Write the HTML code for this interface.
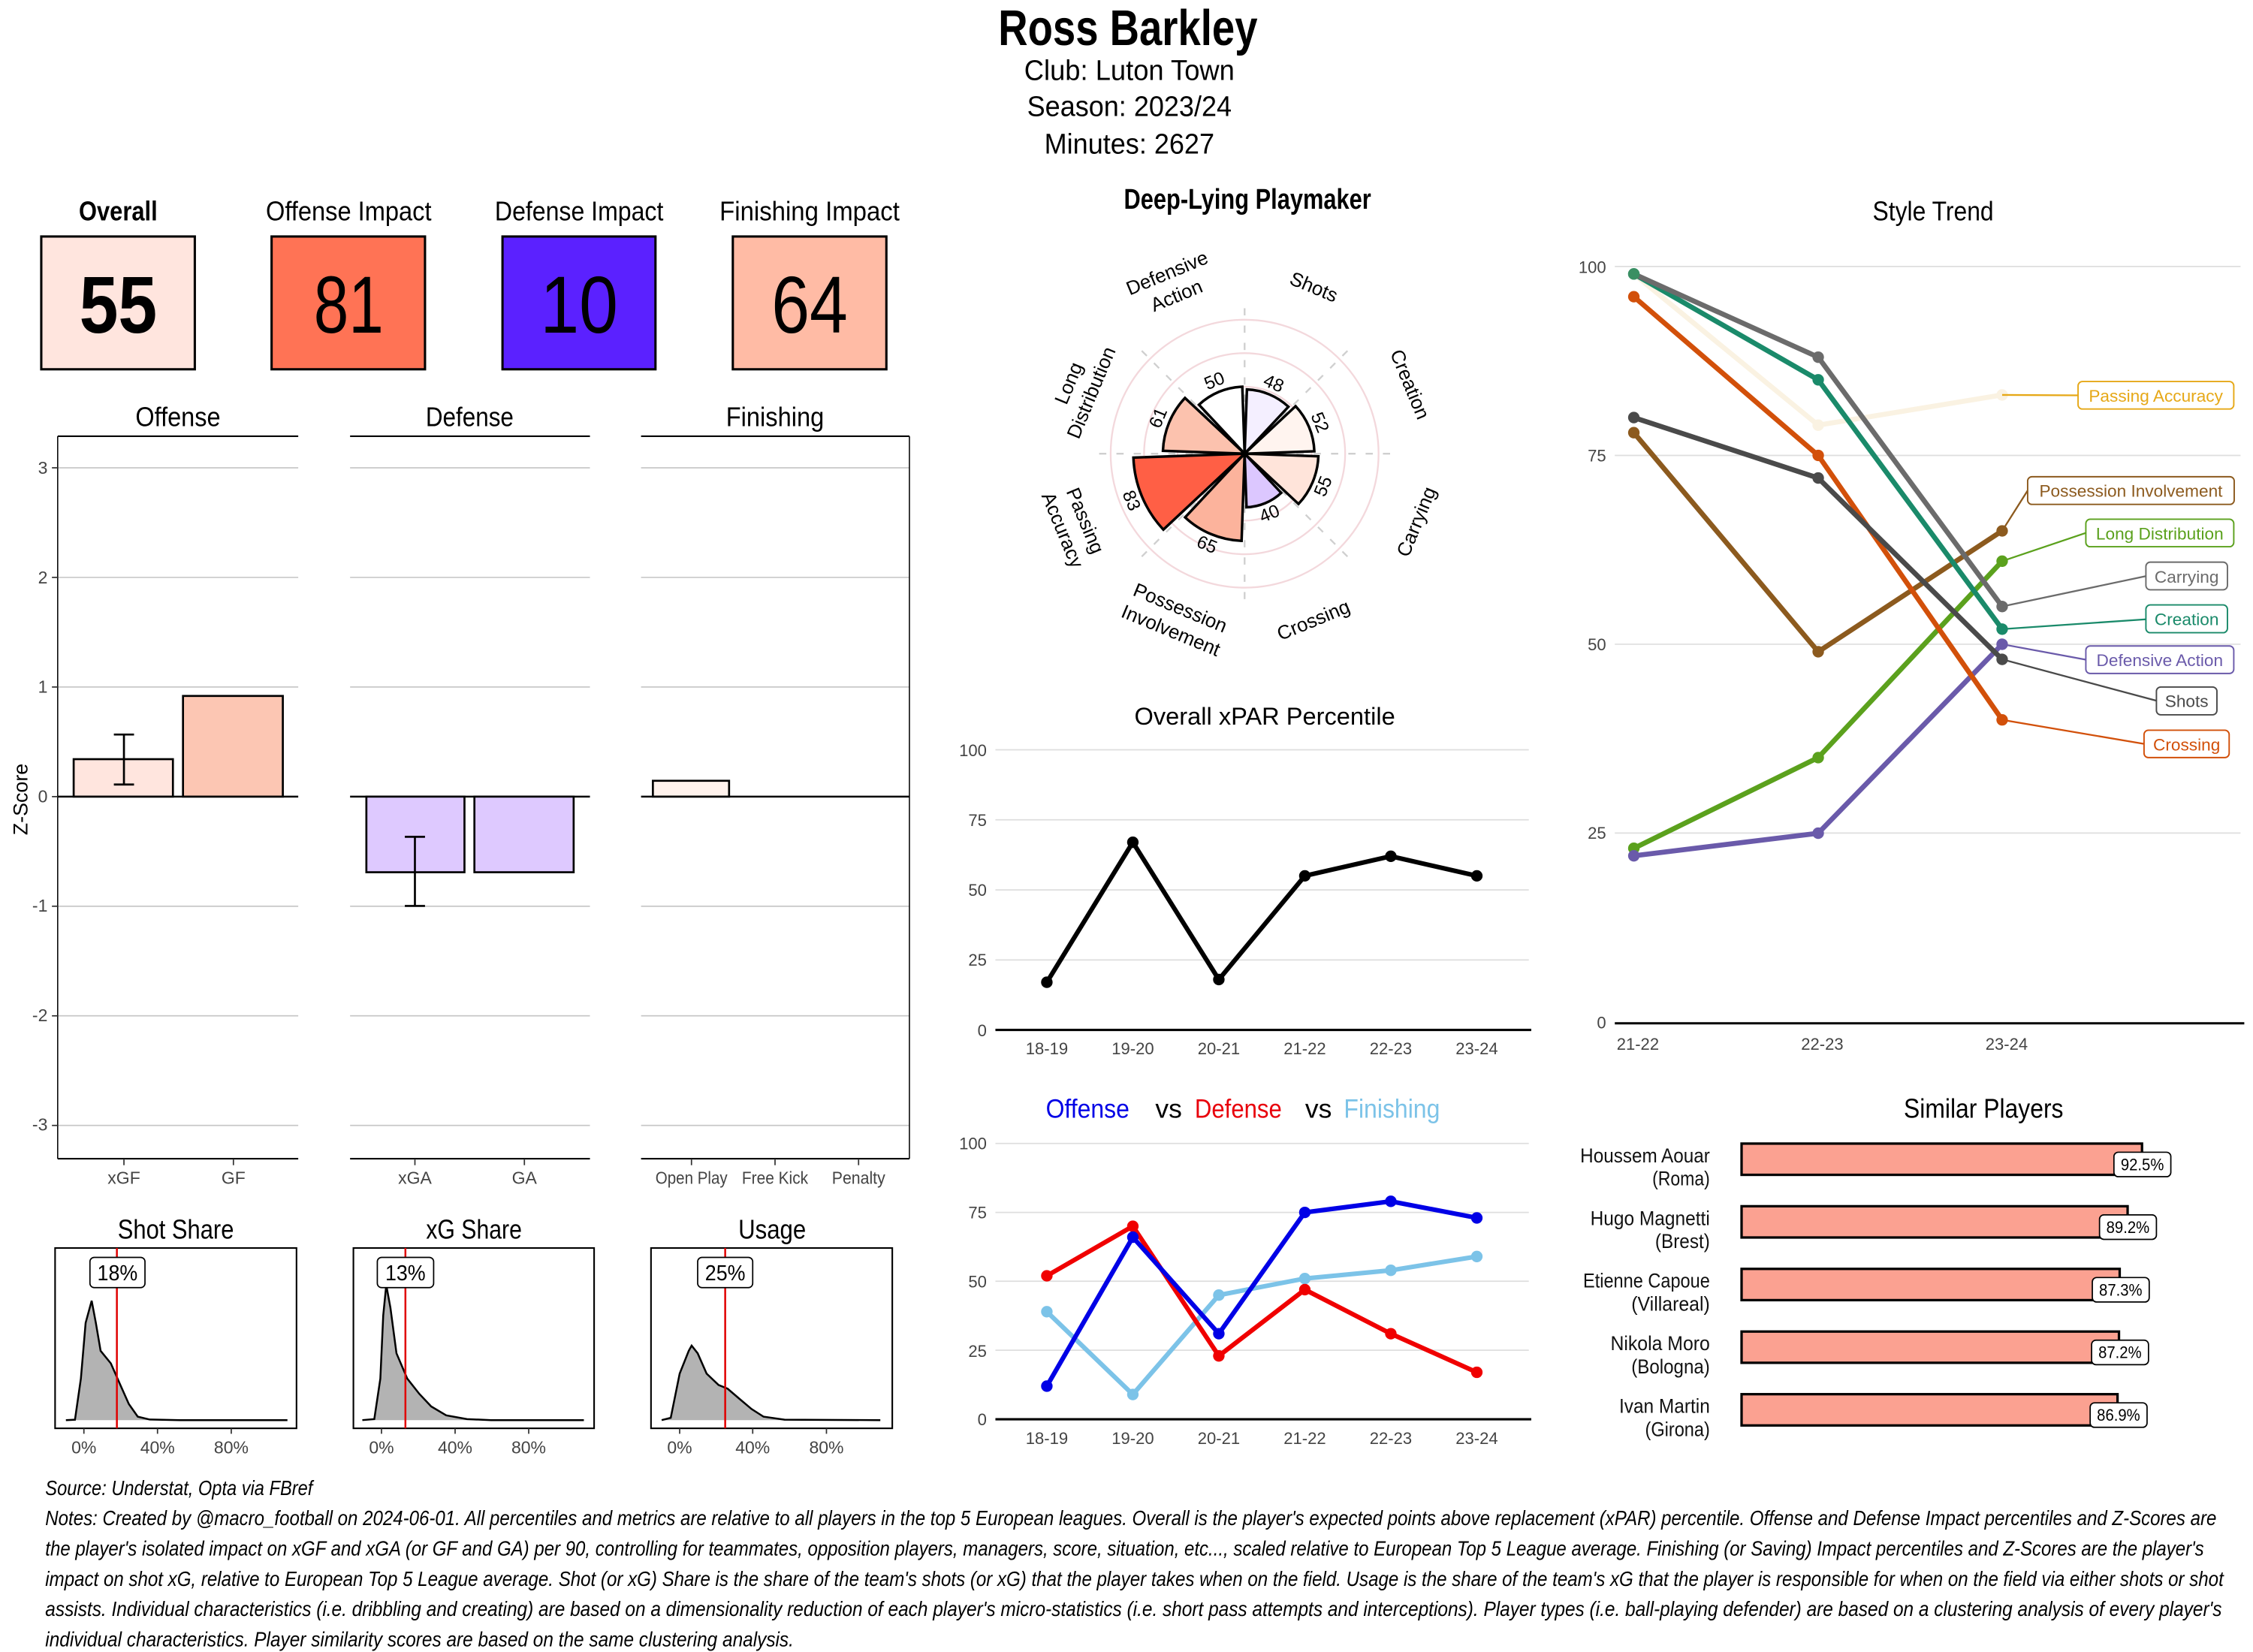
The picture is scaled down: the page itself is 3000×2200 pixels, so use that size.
<!DOCTYPE html>
<html><head><meta charset="utf-8">
<style>
html,body{margin:0;padding:0;background:#fff;}
svg{display:block;}
.c{font-family:"Liberation Sans Narrow","Liberation Sans",sans-serif;}
.s{font-family:"Liberation Sans",sans-serif;}
</style></head>
<body>
<svg width="3000" height="2200" viewBox="0 0 1564 1147" xmlns="http://www.w3.org/2000/svg">
<rect width="1564" height="1147" fill="#fff"/>
<!-- Header -->
<g class="c" text-anchor="middle" fill="#000">
<text x="783" y="31.3" font-size="35" font-weight="bold" textLength="180" lengthAdjust="spacingAndGlyphs">Ross Barkley</text>
<text x="784" y="55.6" font-size="20" textLength="146" lengthAdjust="spacingAndGlyphs">Club:  Luton Town</text>
<text x="784" y="80.5" font-size="20" textLength="142" lengthAdjust="spacingAndGlyphs">Season:  2023/24</text>
<text x="784" y="106.5" font-size="20" textLength="118" lengthAdjust="spacingAndGlyphs">Minutes:  2627</text>
</g>

<!-- Impact boxes -->
<g class="c" text-anchor="middle">
<text x="82" y="153" font-size="19" font-weight="bold" textLength="54.6" lengthAdjust="spacingAndGlyphs">Overall</text>
<text x="242" y="153" font-size="19" textLength="115" lengthAdjust="spacingAndGlyphs">Offense Impact</text>
<text x="402" y="153" font-size="19" textLength="117" lengthAdjust="spacingAndGlyphs">Defense Impact</text>
<text x="562" y="153" font-size="19" textLength="125" lengthAdjust="spacingAndGlyphs">Finishing Impact</text>
<rect x="28.6" y="164.2" width="106.6" height="92.2" fill="#FFE5DE" stroke="#000" stroke-width="1.6"/>
<rect x="188.5" y="164.2" width="106.5" height="92.2" fill="#FF7355" stroke="#000" stroke-width="1.6"/>
<rect x="348.8" y="164.2" width="106.2" height="92.2" fill="#5B21FF" stroke="#000" stroke-width="1.6"/>
<rect x="508.7" y="164.2" width="106.6" height="92.2" fill="#FFBBA5" stroke="#000" stroke-width="1.6"/>
<text x="82" y="231" font-size="56" font-weight="bold" textLength="54" lengthAdjust="spacingAndGlyphs">55</text>
<text x="242" y="231" font-size="56" textLength="48.5" lengthAdjust="spacingAndGlyphs">81</text>
<text x="402" y="231" font-size="56" textLength="54" lengthAdjust="spacingAndGlyphs">10</text>
<text x="562" y="231" font-size="56" textLength="53" lengthAdjust="spacingAndGlyphs">64</text>
</g>

<!-- Z-score facets -->
<g class="c" text-anchor="middle" font-size="19">
<text x="123.5" y="296" textLength="59" lengthAdjust="spacingAndGlyphs">Offense</text>
<text x="326" y="296" textLength="61" lengthAdjust="spacingAndGlyphs">Defense</text>
<text x="538" y="296" textLength="68" lengthAdjust="spacingAndGlyphs">Finishing</text>
</g>
<g stroke="#c8c8c8" stroke-width="0.9">
<line x1="40" x2="207" y1="324.8" y2="324.8"/><line x1="40" x2="207" y1="400.9" y2="400.9"/><line x1="40" x2="207" y1="477" y2="477"/><line x1="40" x2="207" y1="629.2" y2="629.2"/><line x1="40" x2="207" y1="705.3" y2="705.3"/><line x1="40" x2="207" y1="781.4" y2="781.4"/>
<line x1="243" x2="409.5" y1="324.8" y2="324.8"/><line x1="243" x2="409.5" y1="400.9" y2="400.9"/><line x1="243" x2="409.5" y1="477" y2="477"/><line x1="243" x2="409.5" y1="629.2" y2="629.2"/><line x1="243" x2="409.5" y1="705.3" y2="705.3"/><line x1="243" x2="409.5" y1="781.4" y2="781.4"/>
<line x1="445" x2="631" y1="324.8" y2="324.8"/><line x1="445" x2="631" y1="400.9" y2="400.9"/><line x1="445" x2="631" y1="477" y2="477"/><line x1="445" x2="631" y1="629.2" y2="629.2"/><line x1="445" x2="631" y1="705.3" y2="705.3"/><line x1="445" x2="631" y1="781.4" y2="781.4"/>
</g>
<g stroke="#000" stroke-width="1.1" fill="none">
<line x1="40" x2="207" y1="302.9" y2="302.9"/><line x1="243" x2="409.5" y1="302.9" y2="302.9"/><line x1="445" x2="631.3" y1="302.9" y2="302.9"/>
<line x1="40" x2="207" y1="804.5" y2="804.5"/><line x1="243" x2="409.5" y1="804.5" y2="804.5"/><line x1="445" x2="631.3" y1="804.5" y2="804.5"/>
<line x1="40" x2="40" y1="302.9" y2="804.5" stroke-width="0.8"/><line x1="631.3" x2="631.3" y1="302.9" y2="804.5" stroke-width="0.8"/>
<line x1="40" x2="207" y1="553.1" y2="553.1" stroke-width="1.3"/><line x1="243" x2="409.5" y1="553.1" y2="553.1" stroke-width="1.3"/><line x1="445" x2="631.3" y1="553.1" y2="553.1" stroke-width="1.3"/>
</g>
<g stroke="#333" stroke-width="0.9">
<line x1="36" x2="40" y1="324.8" y2="324.8"/><line x1="36" x2="40" y1="400.9" y2="400.9"/><line x1="36" x2="40" y1="477" y2="477"/><line x1="36" x2="40" y1="553.1" y2="553.1"/><line x1="36" x2="40" y1="629.2" y2="629.2"/><line x1="36" x2="40" y1="705.3" y2="705.3"/><line x1="36" x2="40" y1="781.4" y2="781.4"/>
<line x1="86" x2="86" y1="804.5" y2="809"/><line x1="162" x2="162" y1="804.5" y2="809"/><line x1="288" x2="288" y1="804.5" y2="809"/><line x1="364" x2="364" y1="804.5" y2="809"/><line x1="480" x2="480" y1="804.5" y2="809"/><line x1="538" x2="538" y1="804.5" y2="809"/><line x1="596" x2="596" y1="804.5" y2="809"/>
</g>
<g class="c" font-size="12" fill="#444" text-anchor="end">
<text x="33" y="329">3</text><text x="33" y="405">2</text><text x="33" y="481">1</text><text x="33" y="557">0</text><text x="33" y="633">-1</text><text x="33" y="709">-2</text><text x="33" y="785">-3</text>
</g>
<g class="c" font-size="12" fill="#444" text-anchor="middle">
<text x="86" y="822">xGF</text><text x="162" y="822">GF</text><text x="288" y="822">xGA</text><text x="364" y="822">GA</text>
<text x="480" y="822" textLength="50" lengthAdjust="spacingAndGlyphs">Open Play</text><text x="538" y="822" textLength="46" lengthAdjust="spacingAndGlyphs">Free Kick</text><text x="596" y="822" textLength="37" lengthAdjust="spacingAndGlyphs">Penalty</text>
</g>
<text class="s" x="0" y="0" font-size="14" text-anchor="middle" transform="translate(19,555) rotate(-90)">Z-Score</text>
<g stroke="#000" stroke-width="1.4">
<rect x="51.1" y="527.1" width="68.9" height="26" fill="#FFE5DE"/>
<rect x="127" y="483.2" width="69.3" height="69.9" fill="#FCC6B3"/>
<rect x="254.3" y="553.1" width="68.1" height="52.5" fill="#DEC9FF"/>
<rect x="329.3" y="553.1" width="68.9" height="52.5" fill="#DEC9FF"/>
<rect x="453.2" y="542.1" width="52.9" height="11" fill="#FFF2EC"/>
<line x1="86" x2="86" y1="510" y2="544.7"/><line x1="79" x2="93" y1="510" y2="510"/><line x1="79" x2="93" y1="544.7" y2="544.7"/>
<line x1="288" x2="288" y1="581" y2="629"/><line x1="281" x2="295" y1="581" y2="581"/><line x1="281" x2="295" y1="629" y2="629"/>
</g>

<!-- Density panels -->
<g class="c" text-anchor="middle" font-size="19">
<text x="122" y="860" textLength="80.6" lengthAdjust="spacingAndGlyphs">Shot Share</text><text x="329" y="860" textLength="66.5" lengthAdjust="spacingAndGlyphs">xG Share</text><text x="536" y="860" textLength="47" lengthAdjust="spacingAndGlyphs">Usage</text>
</g>
<g stroke="#000" stroke-width="1.3" fill="#B3B3B3">
<path d="M45.7,986 L52,985.7 L56.1,957.2 L59.4,918.5 L63.6,903.1 L66.5,918.5 L69.8,937.9 L76.9,946.6 L83.1,960.7 L89.4,974.8 L95.6,983.6 L103.9,985.6 L124.7,986 L199.5,986"/>
<path d="M251.5,986 L259.8,985.3 L264,957.2 L266,913.3 L268.1,892.2 L271,908 L275.2,939.6 L282.7,957.2 L291,967.7 L299.3,976.5 L309.7,982.7 L324.2,985.3 L340.9,986 L405.3,986"/>
<path d="M459.3,986 L465.6,984.4 L471.8,953.7 L478.1,937.9 L480.1,934.3 L484.3,939.6 L490.5,953.7 L498.8,961.6 L505.1,964.2 L513.4,971.3 L521.7,978.3 L530,983.6 L544.6,985.7 L611.1,986"/>
</g>
<g fill="none" stroke="#000" stroke-width="1.1">
<rect x="38.2" y="866.5" width="167.6" height="125.2"/><rect x="245.3" y="866.5" width="167.1" height="125.2"/><rect x="451.9" y="866.5" width="167.5" height="125.2"/>
</g>
<g stroke="#333" stroke-width="0.9">
<line x1="58.2" x2="58.2" y1="991.7" y2="995.5"/><line x1="109.3" x2="109.3" y1="991.7" y2="995.5"/><line x1="160.5" x2="160.5" y1="991.7" y2="995.5"/>
<line x1="264.8" x2="264.8" y1="991.7" y2="995.5"/><line x1="315.9" x2="315.9" y1="991.7" y2="995.5"/><line x1="367" x2="367" y1="991.7" y2="995.5"/>
<line x1="471.8" x2="471.8" y1="991.7" y2="995.5"/><line x1="522.5" x2="522.5" y1="991.7" y2="995.5"/><line x1="573.7" x2="573.7" y1="991.7" y2="995.5"/>
</g>
<g stroke="#E00000" stroke-width="1.3">
<line x1="81.1" x2="81.1" y1="866.5" y2="991.7"/><line x1="281.4" x2="281.4" y1="866.5" y2="991.7"/><line x1="503.4" x2="503.4" y1="866.5" y2="991.7"/>
</g>
<g fill="#fff" stroke="#000" stroke-width="0.9">
<rect x="62.4" y="873" width="38.2" height="21" rx="3"/><rect x="261.9" y="873" width="39.1" height="21" rx="3"/><rect x="484.3" y="873" width="38.2" height="21" rx="3"/>
</g>
<g class="c" font-size="15" text-anchor="middle">
<text x="81.5" y="889" textLength="28" lengthAdjust="spacingAndGlyphs">18%</text><text x="281.4" y="889" textLength="28" lengthAdjust="spacingAndGlyphs">13%</text><text x="503.4" y="889" textLength="28" lengthAdjust="spacingAndGlyphs">25%</text>
</g>
<g class="c" font-size="12" fill="#444" text-anchor="middle">
<text x="58.2" y="1009">0%</text><text x="109.3" y="1009">40%</text><text x="160.5" y="1009">80%</text>
<text x="264.8" y="1009">0%</text><text x="315.9" y="1009">40%</text><text x="367" y="1009">80%</text>
<text x="471.8" y="1009">0%</text><text x="522.5" y="1009">40%</text><text x="573.7" y="1009">80%</text>
</g>

<!-- Polar -->
<text class="c" x="866" y="145" font-size="20" font-weight="bold" text-anchor="middle" textLength="171.6" lengthAdjust="spacingAndGlyphs">Deep-Lying Playmaker</text>
<g fill="none" stroke="#F3D8DC" stroke-width="1.2">
<circle cx="864" cy="315" r="23.3"/><circle cx="864" cy="315" r="46.5"/><circle cx="864" cy="315" r="69.8"/><circle cx="864" cy="315" r="93"/>
</g>
<g stroke="#CFCFCF" stroke-width="1.2" stroke-dasharray="5,7">
<line x1="864" y1="315" x2="864" y2="213"/><line x1="864" y1="315" x2="936.1" y2="242.9"/><line x1="864" y1="315" x2="966" y2="315"/><line x1="864" y1="315" x2="936.1" y2="387.1"/>
<line x1="864" y1="315" x2="864" y2="417"/><line x1="864" y1="315" x2="791.9" y2="387.1"/><line x1="864" y1="315" x2="762" y2="315"/><line x1="864" y1="315" x2="791.9" y2="242.9"/>
</g>
<g stroke="#000" stroke-width="1.8" stroke-linejoin="miter">
<path d="M864,315 L865.6,270.4 A44.6,44.6 0 0 1 894.4,282.4 Z" fill="#F4EFFF"/>
<path d="M864,315 L899.4,282 A48.4,48.4 0 0 1 912.4,313.3 Z" fill="#FFF4EF"/>
<path d="M864,315 L915.2,316.8 A51.2,51.2 0 0 1 901.4,349.9 Z" fill="#FFE4DA"/>
<path d="M864,315 L889.4,342.2 A37.2,37.2 0 0 1 865.3,352.2 Z" fill="#DCC7FF"/>
<path d="M864,315 L861.9,375.5 A60.5,60.5 0 0 1 822.7,359.2 Z" fill="#FCB39C"/>
<path d="M864,315 L807.6,367.7 A77.2,77.2 0 0 1 786.8,317.7 Z" fill="#FF5F45"/>
<path d="M864,315 L807.3,313 A56.7,56.7 0 0 1 822.6,276.3 Z" fill="#FCC2AE"/>
<path d="M864,315 L832.3,281 A46.5,46.5 0 0 1 862.4,268.5 Z" fill="#FFFFFF"/>
</g>
<g class="s" font-size="12.5" text-anchor="middle" dominant-baseline="central">
<text transform="translate(884.1,266.4) rotate(22.5)">48</text>
<text transform="translate(916.1,293.4) rotate(67.5)">52</text>
<text transform="translate(918.7,337.7) rotate(-67.5)">55</text>
<text transform="translate(881.3,356.8) rotate(-22.5)">40</text>
<text transform="translate(837.8,378.3) rotate(22.5)">65</text>
<text transform="translate(785.3,347.6) rotate(67.5)">83</text>
<text transform="translate(804.2,290.2) rotate(-67.5)">61</text>
<text transform="translate(843.1,264.6) rotate(-22.5)">50</text>
</g>
<g class="s" font-size="13.5" text-anchor="middle" dominant-baseline="central">
<text transform="translate(911.9,199.6) rotate(22.5)">Shots</text>
<text transform="translate(978.4,267) rotate(67.5)">Creation</text>
<text transform="translate(983.6,362.4) rotate(-67.5)">Carrying</text>
<text transform="translate(911.9,430.9) rotate(-22.5)">Crossing</text>
<text transform="translate(816.1,429.8) rotate(22.5)"><tspan x="0" y="-8">Possession</tspan><tspan x="0" y="9">Involvement</tspan></text>
<text transform="translate(745.6,364.7) rotate(67.5)"><tspan x="0" y="-8">Passing</tspan><tspan x="0" y="9">Accuracy</tspan></text>
<text transform="translate(749.6,269.3) rotate(-67.5)"><tspan x="0" y="-8">Long</tspan><tspan x="0" y="9">Distribution</tspan></text>
<text transform="translate(813.4,197.3) rotate(-22.5)"><tspan x="0" y="-8">Defensive</tspan><tspan x="0" y="9">Action</tspan></text>
</g>

<!-- xPAR -->
<text class="s" x="878" y="503" font-size="17" text-anchor="middle">Overall xPAR Percentile</text>
<g stroke="#dedede" stroke-width="0.9">
<line x1="691" x2="1061.3" y1="520.6" y2="520.6"/><line x1="691" x2="1061.3" y1="569.2" y2="569.2"/><line x1="691" x2="1061.3" y1="617.9" y2="617.9"/><line x1="691" x2="1061.3" y1="666.5" y2="666.5"/>
<line x1="691" x2="1061.3" y1="793.9" y2="793.9"/><line x1="691" x2="1061.3" y1="841.8" y2="841.8"/><line x1="691" x2="1061.3" y1="889.6" y2="889.6"/><line x1="691" x2="1061.3" y1="937.5" y2="937.5"/>
</g>
<line x1="691" x2="1063" y1="715.1" y2="715.1" stroke="#000" stroke-width="1.6"/>
<line x1="691" x2="1063" y1="985.4" y2="985.4" stroke="#000" stroke-width="1.6"/>
<g class="s" font-size="11.5" fill="#444" text-anchor="end">
<text x="685" y="525">100</text><text x="685" y="573.5">75</text><text x="685" y="622">50</text><text x="685" y="670.5">25</text><text x="685" y="719.5">0</text>
<text x="685" y="798">100</text><text x="685" y="846">75</text><text x="685" y="894">50</text><text x="685" y="942">25</text><text x="685" y="989.5">0</text>
</g>
<g class="s" font-size="11.5" fill="#444" text-anchor="middle">
<text x="726.7" y="732">18-19</text><text x="786.4" y="732">19-20</text><text x="846.1" y="732">20-21</text><text x="905.8" y="732">21-22</text><text x="965.5" y="732">22-23</text><text x="1025.2" y="732">23-24</text>
<text x="726.7" y="1002.5">18-19</text><text x="786.4" y="1002.5">19-20</text><text x="846.1" y="1002.5">20-21</text><text x="905.8" y="1002.5">21-22</text><text x="965.5" y="1002.5">22-23</text><text x="1025.2" y="1002.5">23-24</text>
</g>
<polyline fill="none" stroke="#000" stroke-width="3.2" points="726.7,682 786.4,584.8 846.1,680.1 905.8,608.1 965.5,594.5 1025.2,608.1"/>
<g fill="#000"><circle cx="726.7" cy="682" r="4"/><circle cx="786.4" cy="584.8" r="4"/><circle cx="846.1" cy="680.1" r="4"/><circle cx="905.8" cy="608.1" r="4"/><circle cx="965.5" cy="594.5" r="4"/><circle cx="1025.2" cy="608.1" r="4"/></g>

<!-- O vs D vs F -->
<g class="s" font-size="18.5">
<text x="726" y="776" fill="#0000E6" textLength="58" lengthAdjust="spacingAndGlyphs">Offense</text>
<text x="802" y="776" fill="#000">vs</text>
<text x="829.4" y="776" fill="#E8000B" textLength="60.4" lengthAdjust="spacingAndGlyphs">Defense</text>
<text x="906" y="776" fill="#000">vs</text>
<text x="932.9" y="776" fill="#7CC3E8" textLength="66.7" lengthAdjust="spacingAndGlyphs">Finishing</text>
</g>
<polyline fill="none" stroke="#7CC3E8" stroke-width="3.2" points="726.7,910.7 786.4,968.2 846.1,899.2 905.8,887.7 965.5,882 1025.2,872.4"/>
<polyline fill="none" stroke="#F00000" stroke-width="3.2" points="726.7,885.8 786.4,851.4 846.1,941.4 905.8,895.4 965.5,926 1025.2,952.8"/>
<polyline fill="none" stroke="#0000E6" stroke-width="3.2" points="726.7,962.4 786.4,859 846.1,926 905.8,841.8 965.5,834.1 1025.2,845.6"/>
<g fill="#7CC3E8"><circle cx="726.7" cy="910.7" r="4"/><circle cx="786.4" cy="968.2" r="4"/><circle cx="846.1" cy="899.2" r="4"/><circle cx="905.8" cy="887.7" r="4"/><circle cx="965.5" cy="882" r="4"/><circle cx="1025.2" cy="872.4" r="4"/></g>
<g fill="#F00000"><circle cx="726.7" cy="885.8" r="4"/><circle cx="786.4" cy="851.4" r="4"/><circle cx="846.1" cy="941.4" r="4"/><circle cx="905.8" cy="895.4" r="4"/><circle cx="965.5" cy="926" r="4"/><circle cx="1025.2" cy="952.8" r="4"/></g>
<g fill="#0000E6"><circle cx="726.7" cy="962.4" r="4"/><circle cx="786.4" cy="859" r="4"/><circle cx="846.1" cy="926" r="4"/><circle cx="905.8" cy="841.8" r="4"/><circle cx="965.5" cy="834.1" r="4"/><circle cx="1025.2" cy="845.6" r="4"/></g>

<!-- Style trend -->
<text class="c" x="1342" y="153" font-size="19" text-anchor="middle" textLength="84" lengthAdjust="spacingAndGlyphs">Style Trend</text>
<g stroke="#dedede" stroke-width="0.9">
<line x1="1121" x2="1555.4" y1="185" y2="185"/><line x1="1121" x2="1555.4" y1="316.2" y2="316.2"/><line x1="1121" x2="1555.4" y1="447.3" y2="447.3"/><line x1="1121" x2="1555.4" y1="578.4" y2="578.4"/>
</g>
<line x1="1121" x2="1558" y1="710.5" y2="710.5" stroke="#000" stroke-width="1.6"/>
<g class="s" font-size="11.5" fill="#444" text-anchor="end">
<text x="1115" y="189.5">100</text><text x="1115" y="320.5">75</text><text x="1115" y="451.5">50</text><text x="1115" y="582.5">25</text><text x="1115" y="714">0</text>
</g>
<g class="s" font-size="11.5" fill="#444" text-anchor="middle">
<text x="1137" y="729">21-22</text><text x="1265" y="729">22-23</text><text x="1393" y="729">23-24</text>
</g>
<g fill="none" stroke-width="3.5" stroke-linejoin="round">
<polyline stroke="#FAF2E2" points="1134.2,190.2 1262.2,295.2 1389.9,274.2"/>
<polyline stroke="#8C5A1E" points="1134.2,300.4 1262.2,452.5 1389.9,368.6"/>
<polyline stroke="#5BA11D" points="1134.2,589 1262.2,526 1389.9,389.6"/>
<polyline stroke="#6A5AAA" points="1134.2,594.2 1262.2,578.5 1389.9,447.3"/>
<polyline stroke="#D2500A" points="1134.2,206 1262.2,316.2 1389.9,499.8"/>
<polyline stroke="#4A4A4A" points="1134.2,289.9 1262.2,331.9 1389.9,457.8"/>
<polyline stroke="#1A8A6A" points="1134.2,190.2 1262.2,263.7 1389.9,436.8"/>
<polyline stroke="#6B6B6B" points="1134.2,190.2 1262.2,248 1389.9,421.1"/>
</g>
<g>
<g fill="#FAF2E2"><circle cx="1262.2" cy="295.2" r="4"/><circle cx="1389.9" cy="274.2" r="4"/></g>
<g fill="#8C5A1E"><circle cx="1134.2" cy="300.4" r="4"/><circle cx="1262.2" cy="452.5" r="4"/><circle cx="1389.9" cy="368.6" r="4"/></g>
<g fill="#5BA11D"><circle cx="1134.2" cy="589" r="4"/><circle cx="1262.2" cy="526" r="4"/><circle cx="1389.9" cy="389.6" r="4"/></g>
<g fill="#6A5AAA"><circle cx="1134.2" cy="594.2" r="4"/><circle cx="1262.2" cy="578.5" r="4"/><circle cx="1389.9" cy="447.3" r="4"/></g>
<g fill="#D2500A"><circle cx="1134.2" cy="206" r="4"/><circle cx="1262.2" cy="316.2" r="4"/><circle cx="1389.9" cy="499.8" r="4"/></g>
<g fill="#4A4A4A"><circle cx="1134.2" cy="289.9" r="4"/><circle cx="1262.2" cy="331.9" r="4"/><circle cx="1389.9" cy="457.8" r="4"/></g>
<g fill="#1A8A6A"><circle cx="1134.2" cy="190.2" r="4"/><circle cx="1262.2" cy="263.7" r="4"/><circle cx="1389.9" cy="436.8" r="4"/></g>
<g fill="#6B6B6B"><circle cx="1262.2" cy="248" r="4"/><circle cx="1389.9" cy="421.1" r="4"/></g>
<circle cx="1134.2" cy="190.2" r="4" fill="#3A8F63"/>
</g>
<g stroke-width="1.2" fill="none">
<line x1="1389.9" y1="274.2" x2="1442.6" y2="274.5" stroke="#E6A817"/>
<polyline points="1389.9,368.6 1407.6,340.6" stroke="#8C5A1E"/>
<line x1="1389.9" y1="389.6" x2="1448" y2="370" stroke="#5BA11D"/>
<line x1="1389.9" y1="421.1" x2="1489.7" y2="400" stroke="#6B6B6B"/>
<line x1="1389.9" y1="436.8" x2="1489.7" y2="430" stroke="#1A8A6A"/>
<line x1="1389.9" y1="447.3" x2="1448" y2="458" stroke="#6A5AAA"/>
<line x1="1389.9" y1="457.8" x2="1497" y2="486.5" stroke="#4A4A4A"/>
<line x1="1389.9" y1="499.8" x2="1488.4" y2="516.5" stroke="#D2500A"/>
</g>
<g fill="#fff" stroke-width="1">
<rect x="1442.6" y="264.9" width="108.1" height="19.1" rx="3" stroke="#E6A817"/>
<rect x="1407.6" y="331" width="143.4" height="19.2" rx="3" stroke="#8C5A1E"/>
<rect x="1448" y="360.5" width="102.7" height="19.1" rx="3" stroke="#5BA11D"/>
<rect x="1489.7" y="390.3" width="56.6" height="19.2" rx="3" stroke="#6B6B6B"/>
<rect x="1489.7" y="420" width="56.6" height="19.3" rx="3" stroke="#1A8A6A"/>
<rect x="1448" y="448.5" width="102.7" height="19.1" rx="3" stroke="#6A5AAA"/>
<rect x="1497" y="477" width="42" height="19.3" rx="3" stroke="#4A4A4A"/>
<rect x="1488.4" y="507" width="59.1" height="19" rx="3" stroke="#D2500A"/>
</g>
<g class="s" font-size="11.8" text-anchor="middle">
<text x="1496.6" y="279" fill="#E6A817">Passing Accuracy</text>
<text x="1479.3" y="345" fill="#8C5A1E">Possession Involvement</text>
<text x="1499.3" y="374.5" fill="#5BA11D">Long Distribution</text>
<text x="1518" y="404.5" fill="#6B6B6B">Carrying</text>
<text x="1518" y="434" fill="#1A8A6A">Creation</text>
<text x="1499.3" y="462.5" fill="#6A5AAA">Defensive Action</text>
<text x="1518" y="491" fill="#4A4A4A">Shots</text>
<text x="1518" y="521" fill="#D2500A">Crossing</text>
</g>

<!-- Similar players -->
<text class="c" x="1377" y="776" font-size="19" text-anchor="middle" textLength="110.8" lengthAdjust="spacingAndGlyphs">Similar Players</text>
<g fill="#FBA191" stroke="#000" stroke-width="1.7">
<rect x="1209" y="794" width="278" height="21.7"/>
<rect x="1209" y="837.5" width="268" height="21.7"/>
<rect x="1209" y="881" width="262.5" height="21.7"/>
<rect x="1209" y="924.5" width="262" height="21.7"/>
<rect x="1209" y="968" width="261" height="21.7"/>
</g>
<g fill="#fff" stroke="#000" stroke-width="0.9">
<rect x="1467.5" y="800" width="39.5" height="17" rx="3"/>
<rect x="1457.5" y="843.5" width="39.5" height="17" rx="3"/>
<rect x="1452.5" y="887" width="39.5" height="17" rx="3"/>
<rect x="1452" y="930.5" width="39.5" height="17" rx="3"/>
<rect x="1451" y="974" width="39.5" height="17" rx="3"/>
</g>
<g class="c" font-size="11.5" text-anchor="middle">
<text x="1487.2" y="812.5" textLength="30" lengthAdjust="spacingAndGlyphs">92.5%</text><text x="1477.2" y="856" textLength="30" lengthAdjust="spacingAndGlyphs">89.2%</text><text x="1472.2" y="899.5" textLength="30" lengthAdjust="spacingAndGlyphs">87.3%</text><text x="1471.7" y="943" textLength="30" lengthAdjust="spacingAndGlyphs">87.2%</text><text x="1470.7" y="986.5" textLength="30" lengthAdjust="spacingAndGlyphs">86.9%</text>
</g>
<g class="c" font-size="14" text-anchor="end" fill="#111">
<text x="1187" y="807" textLength="90" lengthAdjust="spacingAndGlyphs">Houssem Aouar</text><text x="1187" y="823" textLength="40" lengthAdjust="spacingAndGlyphs">(Roma)</text>
<text x="1187" y="850.5" textLength="83" lengthAdjust="spacingAndGlyphs">Hugo Magnetti</text><text x="1187" y="866.5" textLength="38" lengthAdjust="spacingAndGlyphs">(Brest)</text>
<text x="1187" y="894" textLength="88" lengthAdjust="spacingAndGlyphs">Etienne Capoue</text><text x="1187" y="910" textLength="54.5" lengthAdjust="spacingAndGlyphs">(Villareal)</text>
<text x="1187" y="937.5" textLength="69" lengthAdjust="spacingAndGlyphs">Nikola Moro</text><text x="1187" y="953.5" textLength="54.5" lengthAdjust="spacingAndGlyphs">(Bologna)</text>
<text x="1187" y="981" textLength="63" lengthAdjust="spacingAndGlyphs">Ivan Martin</text><text x="1187" y="997" textLength="45" lengthAdjust="spacingAndGlyphs">(Girona)</text>
</g>

<!-- Notes -->
<g class="c" font-size="14.5" font-style="italic" fill="#000">
<text x="31.4" y="1038" textLength="185.6" lengthAdjust="spacingAndGlyphs">Source: Understat, Opta via FBref</text>
<text x="31.4" y="1059" textLength="1507.3" lengthAdjust="spacingAndGlyphs">Notes: Created by @macro_football on 2024-06-01. All percentiles and metrics are relative to all players in the top 5 European leagues. Overall is the player's expected points above replacement (xPAR) percentile. Offense and Defense Impact percentiles and Z-Scores are</text>
<text x="31.4" y="1080" textLength="1498.6" lengthAdjust="spacingAndGlyphs">the player's isolated impact on xGF and xGA (or GF and GA) per 90, controlling for teammates, opposition players, managers, score, situation, etc..., scaled relative to European Top 5 League average. Finishing (or Saving) Impact percentiles and Z-Scores are the player's</text>
<text x="31.4" y="1101" textLength="1512.2" lengthAdjust="spacingAndGlyphs">impact on shot xG, relative to European Top 5 League average. Shot (or xG) Share is the share of the team's shots (or xG) that the player takes when on the field. Usage is the share of the team's xG that the player is responsible for when on the field via either shots or shot</text>
<text x="31.4" y="1122" textLength="1511" lengthAdjust="spacingAndGlyphs">assists. Individual characteristics (i.e. dribbling and creating) are based on a dimensionality reduction of each player's micro-statistics (i.e. short pass attempts and interceptions). Player types (i.e. ball-playing defender) are based on a clustering analysis of every player's</text>
<text x="31.4" y="1143" textLength="519.6" lengthAdjust="spacingAndGlyphs">individual characteristics. Player similarity scores are based on the same clustering analysis.</text>
</g>
</svg>
</body></html>
